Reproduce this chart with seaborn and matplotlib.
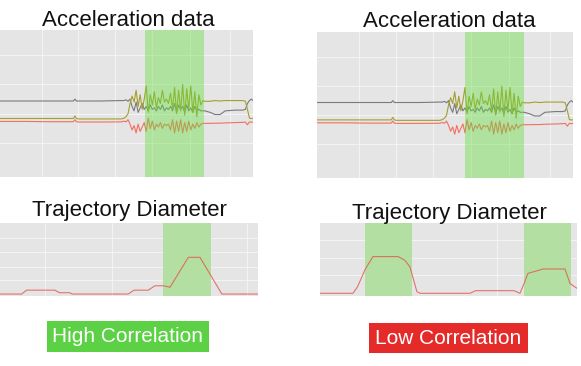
"""
Acceleration data vs trajectory diameter: high / low correlation panels.
"""

import matplotlib
matplotlib.use("Agg")
import matplotlib.pyplot as plt
from matplotlib.patches import Rectangle
import seaborn as sns

# ── Data ────────────────────────────────────────────────
# acceleration samples (time in % of recording, value in arbitrary units)
accel_time = [0, 10, 20, 29, 29.6, 30.2, 31, 40, 48,
              49.0, 49.8, 50.6, 51.4, 52.2, 53.0, 53.8, 54.6, 55.4, 56.2,
              57.0, 57.8, 58.6, 59.4, 60.2, 61.0, 61.8, 62.6, 63.4, 64.2,
              65.0, 65.8, 66.6, 67.4, 68.2, 69.0, 69.8, 70.6, 71.4, 72.2,
              73.0, 73.8, 74.6, 75.4, 76.2, 77.0, 77.8, 78.6, 79.4, 80.2, 81.0,
              83, 85, 87, 89, 93, 96, 97, 97.8, 98.6, 99.3, 100]

accel_gray = [5.17, 5.17, 5.17, 5.17, 5.3, 5.17, 5.17, 5.17, 5.2,
              5.2, 5.25, 5.15, 5.3, 4.8, 4.5, 5.1, 4.4, 4.7, 5.0,
              4.6, 4.8, 4.5, 4.9, 4.6, 4.7, 4.5, 4.8, 4.6, 4.9,
              4.5, 4.7, 4.6, 4.8, 4.5, 5.0, 4.4, 4.9, 4.6, 4.8,
              4.4, 4.9, 4.5, 4.7, 4.4, 4.8, 4.5, 4.6, 4.5, 4.5, 4.5,
              4.4, 4.25, 4.25, 4.5, 4.55, 4.55, 4.6, 5.0, 5.2, 5.3, 5.2]

accel_olive = [3.98, 3.98, 3.98, 3.98, 4.15, 3.98, 3.95, 3.95, 3.95,
               4.0, 4.1, 4.3, 5.0, 5.5, 5.1, 5.9, 4.8, 5.6, 4.6,
               5.3, 6.2, 4.4, 5.6, 4.9, 5.8, 4.7, 5.4, 5.0, 5.9,
               5.1, 5.3, 5.0, 5.7, 4.6, 6.1, 4.3, 5.9, 4.5, 6.3,
               4.2, 6.0, 4.6, 6.2, 4.4, 5.8, 4.1, 5.6, 4.9, 5.2, 5.15,
               5.15, 5.2, 5.17, 5.2, 5.2, 5.2, 5.15, 4.6, 4.0, 3.98, 3.98]

accel_red = [3.78, 3.78, 3.76, 3.76, 3.9, 3.76, 3.74, 3.74, 3.75,
             3.8, 3.75, 3.9, 3.6, 3.2, 3.5, 3.0, 3.6, 3.1, 3.4,
             3.7, 3.1, 4.0, 3.3, 3.8, 3.2, 3.6, 3.4, 3.7, 3.3,
             3.6, 3.5, 3.6, 3.2, 3.9, 3.0, 3.8, 3.1, 3.9, 3.0,
             3.7, 3.1, 3.8, 3.2, 3.6, 3.3, 3.7, 3.4, 3.6, 3.65, 3.65,
             3.65, 3.66, 3.66, 3.68, 3.7, 3.72, 3.74, 3.55, 3.75, 3.72, 3.75]

# trajectory diameter
traj_left_time = [0, 8.4, 10.3, 21.3, 23, 27, 28, 49.7, 52, 57.5, 60, 63.3,
                  65.9, 73, 77.5, 86, 100]
traj_left_diam = [0.27, 0.27, 0.8, 0.8, 0.45, 0.45, 0.27, 0.27, 0.8, 0.8,
                  1.4, 1.4, 1.2, 5.3, 5.3, 0.27, 0.27]

traj_right_time = [0, 12.8, 14.5, 16.3, 17.5, 20.6, 30.4, 33, 35, 37.7, 39,
                   58.4, 60.5, 75.5, 77.8, 79.5, 80.9, 82.9, 86.8, 95.3, 97.3, 100]
traj_right_diam = [0.37, 0.37, 1.2, 2.6, 3.6, 5.4, 5.4, 4.9, 4.0, 0.6, 0.37,
                   0.37, 0.73, 0.73, 0.37, 1.8, 3.1, 3.3, 3.7, 3.7, 1.7, 1.05]

# highlighted windows (start, end)
accel_band_left = [(57.3, 80.6)]
accel_band_right = [(57.8, 80.9)]
traj_band_left = [(63.2, 81.8)]
traj_band_right = [(17.5, 35.8), (79.4, 97.7)]

titles = ["Acceleration data", "Trajectory Diameter"]
badges = ["High Correlation", "Low Correlation"]

# ── Style ────────────────────────────────────────────────
sns.set_theme(style="darkgrid", rc={"axes.facecolor": "#e5e5e5",
                                    "grid.color": "#f6f6f6",
                                    "grid.linewidth": 0.6})
plt.rcParams["font.family"] = ["Liberation Sans", "DejaVu Sans"]

GRAY, OLIVE, RED = "#7a7a7a", "#a39f30", "#f2705f"
W, H = 581, 366

fig = plt.figure(figsize=(W / 100, H / 100), dpi=100)


def px_axes(x0, y0, x1, y1):
    return fig.add_axes([x0 / W, 1 - y1 / H, (x1 - x0) / W, (y1 - y0) / H])


def finish(ax, bands, xgrid, ygrid, overlay):
    for start, end in bands:
        if overlay:
            # green wash over the signal
            ax.axvspan(start, end, color="#66de3e", alpha=0.42, lw=0, zorder=3)
        else:
            ax.axvspan(start, end, color="#aee09b", alpha=0.9, lw=0, zorder=1.5)
    ax.set_xlim(0, 100)
    ax.set_ylim(0, 10)
    ax.set_xticks(xgrid)
    ax.set_yticks(ygrid)
    ax.set_xticklabels([])
    ax.set_yticklabels([])
    ax.tick_params(length=0)
    ax.set_xlabel("")
    ax.set_ylabel("")
    for s in ax.spines.values():
        s.set_visible(False)


# ══════════════════════════════════════════════════════════
# Acceleration panels
# ══════════════════════════════════════════════════════════
for (x0, y0, x1, y1), bands in [((0, 30, 253, 177), accel_band_left),
                                 ((317, 32, 573, 178), accel_band_right)]:
    ax = px_axes(x0, y0, x1, y1)
    sns.lineplot(x=accel_time, y=accel_gray, ax=ax, color=GRAY, lw=0.8, zorder=2)
    sns.lineplot(x=accel_time, y=accel_olive, ax=ax, color=OLIVE, lw=0.8, zorder=2)
    sns.lineplot(x=accel_time, y=accel_red, ax=ax, color=RED, lw=0.8, zorder=2)
    finish(ax, bands, [16.6, 31, 45.5, 60, 75, 91], [2.3, 4.3, 6.3, 8.3], True)

# ══════════════════════════════════════════════════════════
# Trajectory panels
# ══════════════════════════════════════════════════════════
ax = px_axes(0, 223, 258, 296)
sns.lineplot(x=traj_left_time, y=traj_left_diam, ax=ax, color="#e2564c",
             lw=0.8, alpha=0.8, zorder=2)
finish(ax, traj_band_left, [17.4, 43.4, 95.7], [2.2, 4.0, 6.0, 7.9], False)

ax = px_axes(320, 223, 577, 296)
sns.lineplot(x=traj_right_time, y=traj_right_diam, ax=ax, color="#e2564c",
             lw=0.8, alpha=0.8, zorder=2)
finish(ax, traj_band_right, [69, 97], [2.9, 5.2, 7.7], False)

# ── Titles ───────────────────────────────────────────────
for (cx, by), txt in [((128, 26), titles[0]), ((449, 27), titles[0]),
                      ((129.5, 216), titles[1]), ((449, 219), titles[1])]:
    fig.text(cx / W, 1 - by / H, txt, ha="center", va="baseline",
             fontsize=16, color="#111111")

# ── Badges ───────────────────────────────────────────────
for (x0, y0, x1, y1), txt, col in [((47, 321, 209, 352), badges[0], "#5cd145"),
                                   ((369, 323, 528, 353), badges[1], "#e52a2a")]:
    fig.patches.append(Rectangle((x0 / W, 1 - y1 / H), (x1 - x0) / W, (y1 - y0) / H,
                                 transform=fig.transFigure, color=col, lw=0))
    fig.text((x0 + x1) / 2 / W, 1 - (y0 + y1) / 2 / H, txt, ha="center",
             va="center", fontsize=15, color="white")

plt.savefig("out.png", dpi=100)
plt.close()
